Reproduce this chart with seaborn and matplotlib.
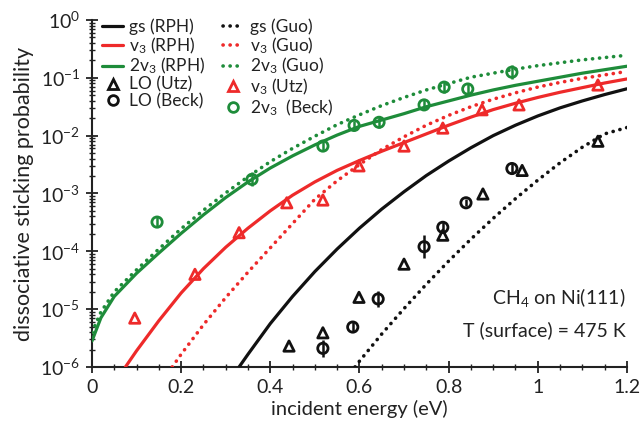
import numpy as np
import matplotlib
matplotlib.use("Agg")
import matplotlib.pyplot as plt
from matplotlib.lines import Line2D
from matplotlib.ticker import LogLocator, MultipleLocator, NullFormatter
import seaborn as sns

# ---------------- data ----------------
# curves: incident energy (eV) and log10(sticking probability)
gs_rph_E = [0.33, 0.35, 0.40, 0.45, 0.50, 0.55, 0.60, 0.65, 0.70, 0.75, 0.80, 0.85, 0.90, 0.95, 1.00, 1.05, 1.10, 1.15, 1.20]
gs_rph_logS = [-6.0, -5.78, -5.25, -4.78, -4.35, -3.96, -3.60, -3.27, -2.97, -2.69, -2.44, -2.21, -2.00, -1.82, -1.66, -1.52, -1.40, -1.29, -1.19]

gs_guo_E = [0.59, 0.60, 0.65, 0.70, 0.75, 0.80, 0.85, 0.90, 0.95, 1.00, 1.05, 1.10, 1.15, 1.20]
gs_guo_logS = [-6.0, -5.90, -5.43, -4.99, -4.57, -4.17, -3.79, -3.43, -3.09, -2.77, -2.47, -2.20, -1.97, -1.86]

v3_rph_E = [0.075, 0.10, 0.15, 0.20, 0.25, 0.30, 0.35, 0.40, 0.45, 0.50, 0.55, 0.60, 0.65, 0.70, 0.75, 0.80, 0.85, 0.90, 0.95, 1.00, 1.05, 1.10, 1.15, 1.20]
v3_rph_logS = [-6.0, -5.72, -5.20, -4.72, -4.30, -3.93, -3.60, -3.30, -3.03, -2.80, -2.60, -2.43, -2.27, -2.12, -1.97, -1.82, -1.68, -1.55, -1.44, -1.34, -1.25, -1.17, -1.09, -1.02]

v3_guo_E = [0.18, 0.20, 0.25, 0.30, 0.35, 0.40, 0.45, 0.50, 0.55, 0.60, 0.65, 0.70, 0.75, 0.80, 0.85, 0.90, 0.95, 1.00, 1.05, 1.10, 1.15, 1.20]
v3_guo_logS = [-6.0, -5.78, -5.27, -4.80, -4.36, -3.94, -3.52, -3.10, -2.78, -2.50, -2.24, -2.02, -1.82, -1.65, -1.50, -1.37, -1.26, -1.16, -1.08, -1.01, -0.95, -0.89]

v3x2_rph_E = [0.0, 0.02, 0.05, 0.10, 0.15, 0.20, 0.25, 0.30, 0.35, 0.40, 0.45, 0.50, 0.55, 0.60, 0.65, 0.70, 0.75, 0.80, 0.85, 0.90, 0.95, 1.00, 1.05, 1.10, 1.15, 1.20]
v3x2_rph_logS = [-5.55, -5.15, -4.78, -4.38, -4.03, -3.69, -3.37, -3.07, -2.80, -2.56, -2.35, -2.16, -1.99, -1.84, -1.73, -1.62, -1.50, -1.40, -1.30, -1.21, -1.13, -1.06, -0.99, -0.92, -0.86, -0.80]

v3x2_guo_E = [0.0, 0.02, 0.05, 0.10, 0.15, 0.20, 0.25, 0.30, 0.35, 0.40, 0.45, 0.50, 0.55, 0.60, 0.65, 0.70, 0.75, 0.80, 0.85, 0.90, 0.95, 1.00, 1.05, 1.10, 1.15, 1.20]
v3x2_guo_logS = [-5.40, -5.05, -4.70, -4.32, -3.96, -3.61, -3.29, -2.99, -2.71, -2.45, -2.22, -2.01, -1.81, -1.64, -1.48, -1.34, -1.21, -1.10, -0.99, -0.92, -0.85, -0.79, -0.74, -0.69, -0.65, -0.61]

# experimental points
lo_utz_E = [0.442, 0.518, 0.599, 0.700, 0.787, 0.877, 0.965, 1.135]
lo_utz_S = [2.3e-6, 3.9e-6, 1.6e-5, 6.0e-5, 1.9e-4, 9.8e-4, 2.5e-3, 8.0e-3]

lo_beck_E = [0.518, 0.585, 0.642, 0.745, 0.787, 0.839, 0.942]
lo_beck_S = [2.1e-6, 4.9e-6, 1.5e-5, 1.2e-4, 2.6e-4, 6.9e-4, 2.7e-3]
lo_beck_logerr = [0.15, 0.08, 0.14, 0.2, 0.1, 0.06, 0.1]

v3_utz_E = [0.096, 0.231, 0.330, 0.437, 0.518, 0.599, 0.700, 0.787, 0.875, 0.958, 1.135]
v3_utz_S = [7.0e-6, 4.0e-5, 2.1e-4, 6.9e-4, 7.7e-4, 3.0e-3, 6.6e-3, 1.35e-2, 2.8e-2, 3.4e-2, 7.5e-2]

v3x2_beck_E = [0.146, 0.359, 0.518, 0.588, 0.644, 0.745, 0.790, 0.843, 0.942]
v3x2_beck_S = [3.2e-4, 1.75e-3, 6.6e-3, 1.5e-2, 1.7e-2, 3.4e-2, 6.9e-2, 6.4e-2, 1.25e-1]
v3x2_beck_logerr = [0.08, 0.12, 0.08, 0.08, 0.1, 0.08, 0.1, 0.1, 0.12]

x_ticks = [0, 0.2, 0.4, 0.6, 0.8, 1.0, 1.2]
x_ticklabels = ["0", "0.2", "0.4", "0.6", "0.8", "1", "1.2"]
y_ticks = [1e-6, 1e-5, 1e-4, 1e-3, 1e-2, 1e-1, 1e0]
y_ticklabels = [r"10$^{-6}$", r"10$^{-5}$", r"10$^{-4}$", r"10$^{-3}$", r"10$^{-2}$", r"10$^{-1}$", r"10$^{0}$"]

# ---------------- style ----------------
sns.set_style("ticks")
plt.rcParams["font.family"] = ["Lato", "DejaVu Sans"]
plt.rcParams["mathtext.fontset"] = "custom"
plt.rcParams["mathtext.rm"] = "Lato"
plt.rcParams["mathtext.it"] = "Lato:italic"
plt.rcParams["mathtext.bf"] = "Lato:bold"

BLACK = "#111111"
RED = "#ee2a2a"
GREEN = "#1e8c3a"
TXT = "#222222"

fig = plt.figure(figsize=(6.41, 4.34), dpi=100)
ax = fig.add_axes([0.1435, 0.1544, 0.978 - 0.1435, 0.954 - 0.1544])

solid_lw = 2.3
dot_lw = 2.6
DOTS = (0.05, 1.9)

def solid(E, logS, color):
    sns.lineplot(x=E, y=10 ** np.asarray(logS), ax=ax, color=color, lw=solid_lw,
                 sort=False, estimator=None, zorder=3)

def dotted(E, logS, color):
    sns.lineplot(x=E, y=10 ** np.asarray(logS), ax=ax, color=color, lw=dot_lw,
                 sort=False, estimator=None, zorder=3)
    ln = ax.lines[-1]
    ln.set_linestyle((0, DOTS))
    ln.set_dash_capstyle("round")

solid(gs_rph_E, gs_rph_logS, BLACK)
dotted(gs_guo_E, gs_guo_logS, BLACK)
solid(v3_rph_E, v3_rph_logS, RED)
dotted(v3_guo_E, v3_guo_logS, RED)
solid(v3x2_rph_E, v3x2_rph_logS, GREEN)
dotted(v3x2_guo_E, v3x2_guo_logS, GREEN)

def errbars(E, S, logerr, color):
    S = np.asarray(S)
    le = np.asarray(logerr)
    lo = S - S / 10 ** le
    hi = S * 10 ** le - S
    ax.errorbar(E, S, yerr=[lo, hi], fmt="none", ecolor=color, elinewidth=1.8,
                capsize=0, zorder=4)

errbars(lo_beck_E, lo_beck_S, lo_beck_logerr, BLACK)
errbars(v3x2_beck_E, v3x2_beck_S, v3x2_beck_logerr, GREEN)

msz = 55
mew = 2.0
sns.scatterplot(x=lo_utz_E, y=lo_utz_S, ax=ax, marker="^", s=msz, facecolor="none",
                edgecolor=BLACK, linewidth=mew, zorder=5)
sns.scatterplot(x=lo_beck_E, y=lo_beck_S, ax=ax, marker="o", s=msz, facecolor="none",
                edgecolor=BLACK, linewidth=mew, zorder=5)
sns.scatterplot(x=v3_utz_E, y=v3_utz_S, ax=ax, marker="^", s=msz, facecolor="none",
                edgecolor=RED, linewidth=mew, zorder=5)
sns.scatterplot(x=v3x2_beck_E, y=v3x2_beck_S, ax=ax, marker="o", s=msz, facecolor="none",
                edgecolor=GREEN, linewidth=mew, zorder=5)

ax.set_yscale("log")
ax.set_xlim(0, 1.2)
ax.set_ylim(1e-6, 1e0)
ax.set_xticks(x_ticks)
ax.set_xticklabels(x_ticklabels)
ax.xaxis.set_minor_locator(MultipleLocator(0.05))
ax.set_yticks(y_ticks)
ax.set_yticklabels(y_ticklabels)
ax.yaxis.set_minor_locator(LogLocator(base=10, subs=np.arange(2, 10), numticks=20))
ax.yaxis.set_minor_formatter(NullFormatter())

ax.tick_params(axis="both", which="major", direction="inout", length=9, width=1.3,
               labelsize=14, colors=TXT, pad=4)
ax.tick_params(axis="both", which="minor", direction="inout", length=5, width=1.0,
               colors=TXT)
for sp in ["top", "right"]:
    ax.spines[sp].set_visible(False)
for sp in ["left", "bottom"]:
    ax.spines[sp].set_linewidth(1.5)
    ax.spines[sp].set_color(TXT)

ax.set_xlabel("incident energy (eV)", fontsize=14.5, color=TXT, labelpad=3)
ax.set_ylabel("dissociative sticking probability", fontsize=15.5, color=TXT, labelpad=4)

ax.text(0.997, 0.2, r"CH$_4$ on Ni(111)", transform=ax.transAxes, ha="right",
        va="center", fontsize=14, color=TXT)
ax.text(0.997, 0.105, "T (surface) = 475 K", transform=ax.transAxes, ha="right",
        va="center", fontsize=14, color=TXT)

# legend
def dot_handle(color):
    h = Line2D([], [], color=color, lw=dot_lw, ls=(0, DOTS))
    h.set_dash_capstyle("round")
    return h

handles = [
    Line2D([], [], color=BLACK, lw=solid_lw),
    Line2D([], [], color=RED, lw=solid_lw),
    Line2D([], [], color=GREEN, lw=solid_lw),
    Line2D([], [], color=BLACK, marker="^", ls="none", mfc="none", mec=BLACK, mew=mew, ms=7),
    Line2D([], [], color=BLACK, marker="o", ls="none", mfc="none", mec=BLACK, mew=mew, ms=7),
    dot_handle(BLACK),
    dot_handle(RED),
    dot_handle(GREEN),
    Line2D([], [], color=RED, marker="^", ls="none", mfc="none", mec=RED, mew=mew, ms=7),
    Line2D([], [], color=GREEN, marker="o", ls="none", mfc="none", mec=GREEN, mew=mew, ms=7),
]
labels = ["gs (RPH)", r"v$_3$ (RPH)", r"2v$_3$ (RPH)", "LO (Utz)", "LO (Beck)",
          "gs (Guo)", r"v$_3$ (Guo)", r"2v$_3$ (Guo)", r"v$_3$ (Utz)", r"2v$_3$  (Beck)"]
leg = ax.legend(handles, labels, ncol=2, loc="upper left", bbox_to_anchor=(0.0, 1.035),
                frameon=False, fontsize=12.5, handlelength=1.2, handletextpad=0.35,
                columnspacing=1.0, labelspacing=0.02, borderaxespad=0.2)
for t in leg.get_texts():
    t.set_color(TXT)

fig.savefig("out.png", dpi=100)
